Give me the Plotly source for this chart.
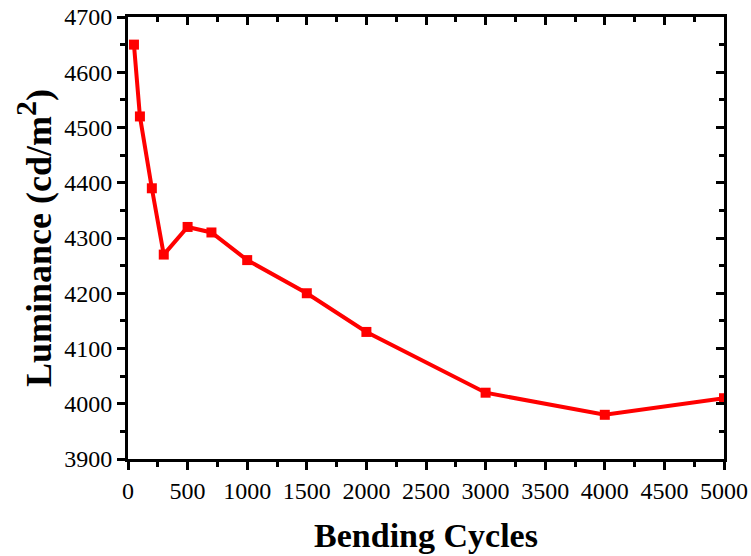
import plotly.graph_objects as go

cycles = [50, 100, 200, 300, 500, 700, 1000, 1500, 2000, 3000, 4000, 5000]
luminance = [4650, 4520, 4390, 4270, 4320, 4310, 4260, 4200, 4130, 4020, 3980, 4010]

x_range = [0, 5000]
y_range = [3900, 4700]
x_ticks = list(range(0, 5001, 500))
y_ticks = list(range(3900, 4701, 100))

FONT = "Liberation Serif"
RED = "#ff0000"

fig = go.Figure()
fig.add_trace(go.Scatter(
    x=cycles, y=luminance, mode="lines+markers",
    line=dict(color=RED, width=4),
    marker=dict(symbol="square", size=10, color=RED),
    showlegend=False, hoverinfo="skip",
))
# invisible trace to carry mirror axes (inside ticks on top/right)
fig.add_trace(go.Scatter(x=[0], y=[3900], xaxis="x2", yaxis="y2", mode="markers",
                         marker=dict(size=1, opacity=0),
                         showlegend=False, hoverinfo="skip"))

common = dict(showline=True, linecolor="black", linewidth=3, showgrid=False,
              zeroline=False, tickcolor="black", tickwidth=3, automargin=False)

fig.update_layout(
    width=751, height=556,
    margin=dict(l=128, r=27, t=17, b=97),
    paper_bgcolor="white", plot_bgcolor="white",
    font=dict(family=FONT, color="black"),
    xaxis=dict(range=x_range, tickvals=x_ticks, ticks="outside", ticklen=8,
               minor=dict(ticks="outside", ticklen=5, tickwidth=3, tickcolor="black", dtick=250, tick0=0),
               tickfont=dict(family=FONT, size=24, color="black"), ticklabeloverflow="allow",
               title=dict(text="<b>Bending Cycles</b>", font=dict(family=FONT, size=34, color="black"), standoff=21),
               **common),
    yaxis=dict(range=y_range, tickvals=y_ticks, ticks="outside", ticklen=8,
               minor=dict(ticks="outside", ticklen=5, tickwidth=3, tickcolor="black", dtick=50, tick0=3900),
               tickfont=dict(family=FONT, size=24, color="black"), ticklabeloverflow="allow",
               title=dict(text="<b>Luminance (cd/m<sup><span style='font-size:30px'>2</span></sup>)</b>",
                          font=dict(family=FONT, size=36, color="black"), standoff=2),
               **common),
    xaxis2=dict(range=x_range, overlaying="x", side="top", tickvals=x_ticks, ticks="inside", ticklen=8,
                minor=dict(ticks="inside", ticklen=5, tickwidth=3, tickcolor="black", dtick=250, tick0=0),
                showticklabels=False, **common),
    yaxis2=dict(range=y_range, overlaying="y", side="right", tickvals=y_ticks, ticks="inside", ticklen=8,
                minor=dict(ticks="inside", ticklen=5, tickwidth=3, tickcolor="black", dtick=50, tick0=3900),
                showticklabels=False, **common),
)

fig.write_html("out.html", config={"displayModeBar": False},
               post_script="document.body.style.margin='0px';")
